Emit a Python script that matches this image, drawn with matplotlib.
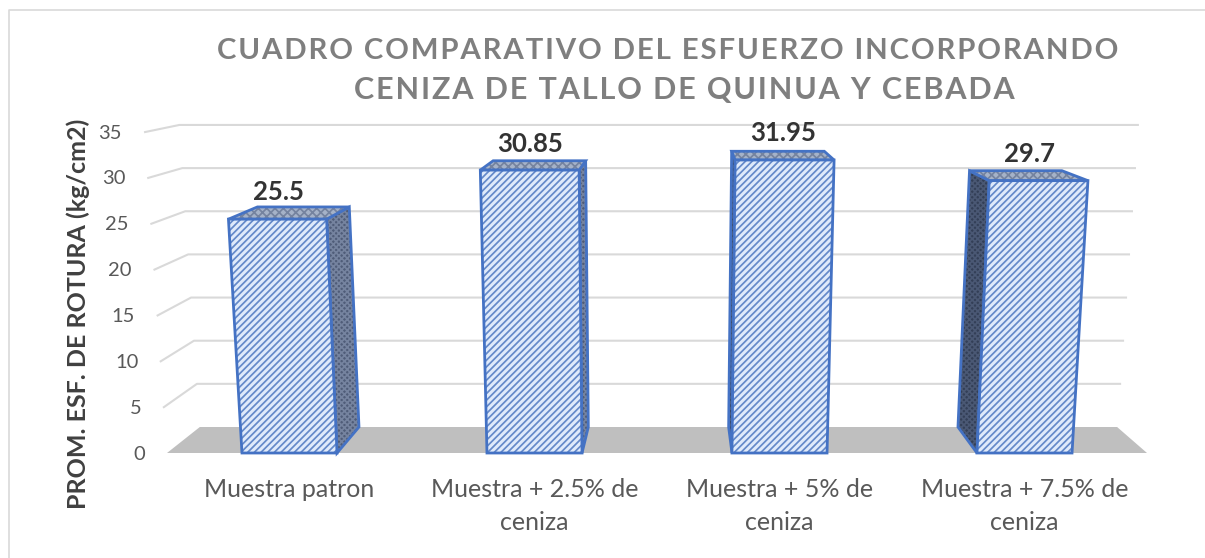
import numpy as np
import matplotlib
matplotlib.use("Agg")
import matplotlib.pyplot as plt
from matplotlib.patches import Polygon

categories = ["Muestra patron", "Muestra + 2.5% de\nceniza", "Muestra + 5% de\nceniza", "Muestra + 7.5% de\nceniza"]
values = [25.5, 30.85, 31.95, 29.7]
y_ticks = [0, 5, 10, 15, 20, 25, 30, 35]
title_lines = ["CUADRO COMPARATIVO DEL ESFUERZO INCORPORANDO", "CENIZA DE TALLO DE QUINUA Y CEBADA"]
y_label = "PROM. ESF. DE ROTURA (kg/cm2)"

# perspective of the fake 3d chart, all in image pixels
FRONT_LEFT = 167
CAT_W = 245
BASE_Y = 453
FRONT_SCALE = 9.17
BACK_BASE = 427
BACK_SCALE = 8.63
VAN_X = 680
SHRINK = 0.936
LEAN_X = 655
LEAN = 1.4e-4
BAR_W = 0.388

plt.rcParams["font.family"] = ["Lato", "DejaVu Sans"]
plt.rcParams["hatch.linewidth"] = 1.25


def project(cat, value, depth):
    x = FRONT_LEFT + cat * CAT_W
    front_y = BASE_Y - value * FRONT_SCALE
    back_y = BACK_BASE - value * BACK_SCALE
    y = front_y + (back_y - front_y) * depth
    x = VAN_X + (x - VAN_X) * (1 + (SHRINK - 1) * depth)
    x = LEAN_X + (x - LEAN_X) * (1 + LEAN * (BASE_Y - front_y))
    return x, y


def spaced(text):
    return "\u200a".join(text)


fig = plt.figure(figsize=(12.05, 5.58), dpi=100)
ax = fig.add_axes([0, 0, 1, 1])
ax.set_xlim(0, 1205)
ax.set_ylim(558, 0)
ax.axis("off")

# only the top and left of the chart border show, both run off the image
ax.plot([8.5, 8.5, 1205], [558, 10, 10], color="#D9D9D9", lw=1.2)

n = len(categories)

# floor
ax.add_patch(Polygon([project(0, 0, 0), project(n, 0, 0), project(n, 0, 1), project(0, 0, 1)],
                     facecolor="#BFBFBF", edgecolor="none", zorder=1))

# gridlines, back wall and left wall
for v in y_ticks[1:]:
    pts = [project(0, v, 0), project(0, v, 1), project(n, v, 1)]
    ax.plot([p[0] for p in pts], [p[1] for p in pts], color="#D9D9D9", lw=1.5, zorder=2)

for v in y_ticks:
    ax.text(145 - v * 0.66, BASE_Y + 1 - v * FRONT_SCALE, str(v), ha="right", va="center",
            fontsize=14.5, color="#595959")

label_dx = [1, 0, -1, -9]
label_dy = [3, 1, 0, 1]

# bars
for i, v in enumerate(values):
    c = i + 0.5
    left = c - BAR_W / 2
    right = c + BAR_W / 2
    # side that faces the middle of the chart
    if project(c, 0, 0)[0] < VAN_X:
        side_x, side_col, side_hatch = right, "#4F5C78", "#75839F"
    else:
        side_x, side_col, side_hatch = left, "#333F57", "#4A5874"
    side = [project(side_x, 0, 0), project(side_x, 0, 1), project(side_x, v, 1), project(side_x, v, 0)]
    ax.add_patch(Polygon(side, facecolor=side_col, edgecolor=side_hatch, hatch="xxxxxx", lw=0, zorder=3))
    ax.add_patch(Polygon(side, fill=False, edgecolor="#4472C4", lw=2, zorder=3))
    top = [project(left, v, 0), project(right, v, 0), project(right, v, 1), project(left, v, 1)]
    ax.add_patch(Polygon(top, facecolor="#A5B2C8", edgecolor="#75839F", hatch="xxxx", lw=0, zorder=3))
    ax.add_patch(Polygon(top, fill=False, edgecolor="#4472C4", lw=2, zorder=3))
    front = [project(left, 0, 0), project(right, 0, 0), project(right, v, 0), project(left, v, 0)]
    ax.add_patch(Polygon(front, facecolor="#DFEAFB", edgecolor="#6489C9", hatch="/////", lw=0, zorder=4))
    ax.add_patch(Polygon(front, fill=False, edgecolor="#4472C4", lw=2, zorder=5))

    x_lab, _ = project(c, v, 0)
    _, y_lab = project(c, v, 1)
    ax.text(x_lab + label_dx[i], y_lab - 18 + label_dy[i], f"{v:g}", ha="center", va="center",
            fontsize=18.5, fontweight="bold", color="#333333", zorder=6)

    ax.text(FRONT_LEFT + c * CAT_W, 478, categories[i], ha="center", va="top", fontsize=18,
            color="#595959", linespacing=1.5)

ax.text(78, 314, y_label, rotation=90, ha="center", va="center", fontsize=18,
        fontweight="bold", color="#404040")
ax.text(668, 51, spaced(title_lines[0]), ha="center", va="center", fontsize=21.2, fontweight="bold",
        color="#7F7F7F")
ax.text(684, 90, spaced(title_lines[1]), ha="center", va="center", fontsize=22, fontweight="bold",
        color="#7F7F7F")

fig.savefig("out.png", dpi=100)
